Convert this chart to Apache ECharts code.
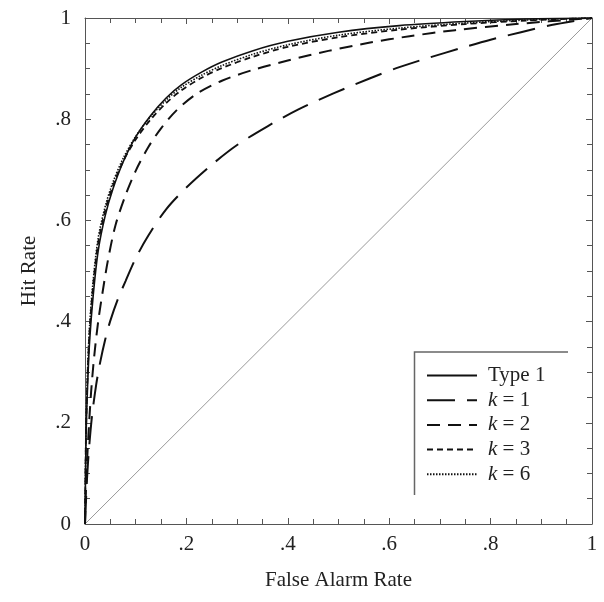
<!DOCTYPE html>
<html>
<head>
<meta charset="utf-8">
<script src="https://cdn.jsdelivr.net/npm/echarts@6/dist/echarts.min.js"></script>
<style>html,body{margin:0;padding:0;background:#fff}#c{width:604px;height:602px}</style>
</head>
<body>
<div id="c"></div>
<script>
// ---- data ----
const tickValues = [0, 0.2, 0.4, 0.6, 0.8, 1];
const tickLabels = ['0', '.2', '.4', '.6', '.8', '1'];
const xLabel = 'False Alarm Rate';
const yLabel = 'Hit Rate';
const seriesNames = ['Type 1', 'k = 1', 'k = 2', 'k = 3', 'k = 6'];

const type1X = [0, 0.002, 0.005, 0.009, 0.016, 0.026, 0.04, 0.055, 0.075, 0.1, 0.13, 0.16, 0.19, 0.23, 0.27, 0.33, 0.4, 0.5, 0.62, 0.75, 0.87, 1];
const type1Y = [0, 0.17, 0.27, 0.36, 0.45, 0.54, 0.61, 0.662, 0.715, 0.765, 0.808, 0.842, 0.868, 0.893, 0.913, 0.935, 0.954, 0.972, 0.985, 0.993, 0.998, 1];

const k1X = [0, 0.004, 0.008, 0.014, 0.022, 0.03, 0.04, 0.05, 0.065, 0.08, 0.1, 0.125, 0.16, 0.2, 0.25, 0.3, 0.36, 0.42, 0.49, 0.56, 0.62, 0.68, 0.74, 0.8, 0.86, 0.92, 1];
const k1Y = [0, 0.09, 0.15, 0.215, 0.275, 0.32, 0.365, 0.402, 0.445, 0.48, 0.525, 0.57, 0.622, 0.665, 0.71, 0.749, 0.786, 0.819, 0.851, 0.88, 0.903, 0.922, 0.94, 0.957, 0.972, 0.986, 1];

const k2X = [0, 0.003, 0.007, 0.012, 0.018, 0.026, 0.035, 0.045, 0.06, 0.08, 0.1, 0.125, 0.15, 0.18, 0.22, 0.27, 0.33, 0.4, 0.48, 0.56, 0.64, 0.73, 0.85, 1];
const k2Y = [0, 0.1, 0.18, 0.26, 0.33, 0.4, 0.46, 0.52, 0.59, 0.65, 0.698, 0.745, 0.782, 0.817, 0.85, 0.876, 0.897, 0.916, 0.935, 0.951, 0.964, 0.976, 0.988, 1];

const k3X = [0, 0.002, 0.005, 0.009, 0.016, 0.026, 0.04, 0.055, 0.075, 0.1, 0.13, 0.16, 0.19, 0.23, 0.27, 0.33, 0.4, 0.5, 0.62, 0.75, 0.87, 1];
const k3Y = [0, 0.18, 0.29, 0.38, 0.47, 0.555, 0.62, 0.668, 0.716, 0.76, 0.8, 0.832, 0.857, 0.882, 0.901, 0.923, 0.943, 0.962, 0.977, 0.988, 0.995, 1];

const k6X = [0, 0.002, 0.005, 0.009, 0.016, 0.026, 0.04, 0.055, 0.075, 0.1, 0.13, 0.16, 0.19, 0.23, 0.27, 0.33, 0.4, 0.5, 0.62, 0.75, 0.87, 1];
const k6Y = [0, 0.19, 0.3, 0.39, 0.48, 0.565, 0.628, 0.675, 0.722, 0.766, 0.806, 0.838, 0.863, 0.887, 0.906, 0.928, 0.947, 0.966, 0.98, 0.99, 0.996, 1];

const diagX = [0, 1];
const diagY = [0, 1];

// ---- chart ----
const zip = (xs, ys) => xs.map((x, i) => [x, ys[i]]);
const FONT = '"Liberation Serif", "DejaVu Serif", serif';
const fmt = v => { const i = tickValues.findIndex(t => Math.abs(t - v) < 1e-9); return i >= 0 ? tickLabels[i] : ''; };
const frameColor = '#555';

function axis(extra) {
  return Object.assign({
    type: 'value', min: 0, max: 1, interval: 0.2,
    axisLine: { show: true, onZero: false, lineStyle: { color: frameColor, width: 1 } },
    axisTick: { show: true, inside: true, length: 6, lineStyle: { color: frameColor } },
    minorTick: { show: true, splitNumber: 4, length: 5, lineStyle: { color: frameColor } },
    splitLine: { show: false },
    minorSplitLine: { show: false },
    axisLabel: { show: false }
  }, extra);
}

const chart = echarts.init(document.getElementById('c'), null, { renderer: 'canvas' });
const lineS = (name, xs, ys, type, width) => ({
  name, type: 'line', data: zip(xs, ys), showSymbol: false, symbol: 'none',
  smooth: 0.3, silent: true,
  lineStyle: { color: '#111', width, type },
  itemStyle: { color: '#111' }
});

chart.setOption({
  animation: false,
  backgroundColor: '#fff',
  grid: { left: 85, right: 12, top: 18, bottom: 78 },
  xAxis: [
    axis({
      position: 'bottom',
      name: xLabel, nameLocation: 'middle', nameGap: 46,
      nameTextStyle: { fontFamily: FONT, fontSize: 21, color: '#222' },
      axisLabel: { show: true, formatter: fmt, fontFamily: FONT, fontSize: 21, color: '#222', margin: 10 }
    }),
    axis({ position: 'top' })
  ],
  yAxis: [
    axis({
      position: 'left',
      name: yLabel, nameLocation: 'middle', nameGap: 45, nameRotate: 90,
      nameTextStyle: { fontFamily: FONT, fontSize: 21, color: '#222' },
      axisLabel: { show: true, formatter: fmt, fontFamily: FONT, fontSize: 21, color: '#222', margin: 14 }
    }),
    axis({ position: 'right' })
  ],
  legend: {
    orient: 'vertical', left: 421, top: 360,
    itemWidth: 50, itemHeight: 14, itemGap: 3.7,
    itemStyle: { opacity: 0 },
    data: seriesNames.map(n => ({ name: n })),
    formatter: n => n.startsWith('k') ? '{i|k}' + n.slice(1) : n,
    textStyle: {
      fontFamily: FONT, fontSize: 21, color: '#222', lineHeight: 20, padding: [0, 0, 0, 6],
      rich: { i: { fontFamily: FONT, fontSize: 21, fontStyle: 'italic', color: '#222' } }
    },
    selectedMode: false
  },
  graphic: [{
    type: 'polyline', silent: true,
    shape: { points: [[568, 352], [414.5, 352], [414.5, 495]] },
    style: { stroke: '#666', lineWidth: 1.5, fill: null }
  }],
  series: [
    { name: 'diag', type: 'line', data: zip(diagX, diagY), showSymbol: false, symbol: 'none', silent: true,
      lineStyle: { color: '#999', width: 1 } },
    lineS(seriesNames[0], type1X, type1Y, 'solid', 1.6),
    lineS(seriesNames[1], k1X, k1Y, [28, 12], 2),
    lineS(seriesNames[2], k2X, k2Y, [13, 8], 2),
    lineS(seriesNames[3], k3X, k3Y, [6, 4], 1.8),
    lineS(seriesNames[4], k6X, k6Y, [1.5, 1.5], 1.6)
  ]
});
</script>
</body>
</html>
